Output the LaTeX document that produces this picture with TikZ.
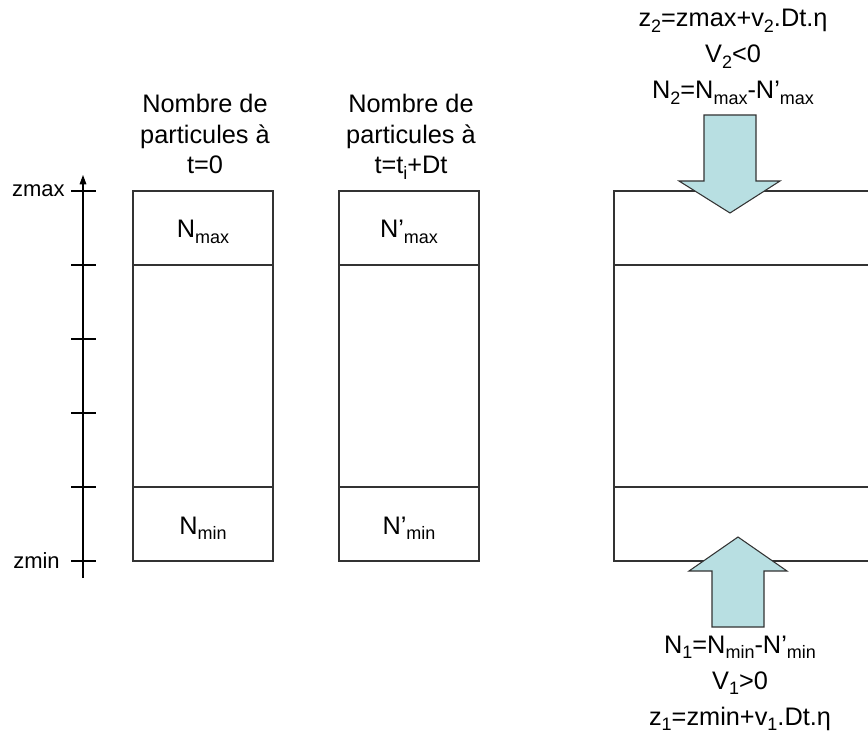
\documentclass[tikz,border=0pt]{standalone}
\usepackage{fontspec}
\setmainfont{Liberation Sans}
\usetikzlibrary{arrows.meta}
\newcommand{\sbs}[1]{\raisebox{-0.22em}{\fontsize{13.5}{13.5}\selectfont #1}}
\definecolor{arrowfill}{HTML}{B8DFE2}
\definecolor{linec}{HTML}{333333}
\tikzset{
  lbl/.style={font=\fontsize{19}{23}\selectfont, inner sep=0pt, anchor=base},
  axlbl/.style={font=\fontsize{16.5}{20}\selectfont, inner sep=0pt, anchor=base east},
  cell/.style={draw=linec, line width=0.8pt},
  blockarrow/.style={draw=linec, line width=0.8pt, fill=arrowfill},
  axisline/.style={draw=black, line width=0.8pt}
}
\begin{document}
\begin{tikzpicture}[x=0.75pt,y=-0.75pt]
\useasboundingbox (0,0) rectangle (868,738);
% axis
\coordinate (axbot) at (83,578);
\coordinate (axtop) at (83,175);
\draw[axisline,-{Triangle[length=7pt,width=5pt]}] (axbot) -- (axtop);
\foreach \y/\n in {191/t0,265/t1,339/t2,413/t3,487/t4,561/t5}{
  \coordinate (\n l) at (71,\y);
  \coordinate (\n r) at (96,\y);
  \draw[axisline] (\n l) -- (\n r);
}
\node[axlbl] (zmax) at (65,197) {zmax};
\node[axlbl] (zmin) at (60,568) {zmin};
% box 1
\draw[cell] (133,191) rectangle (273,561);
\draw[cell] (133,265) -- (273,265);
\draw[cell] (133,487) -- (273,487);
\node[lbl] (h1a) at (205,113) {Nombre de};
\node[lbl] (h1b) at (205,144) {particules à};
\node[lbl] (h1c) at (205,174) {t=0};
\node[lbl] (nmax) at (203,238) {N\sbs{max}};
\node[lbl] (nmin) at (203,534) {N\sbs{min}};
% box 2
\draw[cell] (339,191) rectangle (479,561);
\draw[cell] (339,265) -- (479,265);
\draw[cell] (339,487) -- (479,487);
\node[lbl] (h2a) at (411,113) {Nombre de};
\node[lbl] (h2b) at (411,144) {particules à};
\node[lbl] (h2c) at (411,174) {t=t\sbs{i}+Dt};
\node[lbl] (npmax) at (409,238) {N’\sbs{max}};
\node[lbl] (npmin) at (409,534) {N’\sbs{min}};
% box 3 (open to the right)
\draw[cell] (870,191) -- (614,191) -- (614,561) -- (870,561);
\draw[cell] (614,265) -- (870,265);
\draw[cell] (614,487) -- (870,487);
% top block arrow
\draw[blockarrow] (704,115) -- (756,115) -- (756,181) -- (780,181) -- (730,213) -- (679,181) -- (704,181) -- cycle;
% bottom block arrow
\draw[blockarrow] (712,627) -- (764,627) -- (764,571) -- (787,571) -- (738,537) -- (689,571) -- (712,571) -- cycle;
% top labels
\node[lbl] (topa) at (733,27) {z\sbs{2}=zmax+v\sbs{2}.Dt.η};
\node[lbl] (topb) at (733,63) {V\sbs{2}<0};
\node[lbl] (topc) at (733,99) {N\sbs{2}=N\sbs{max}-N’\sbs{max}};
% bottom labels
\node[lbl] (bota) at (740,653) {N\sbs{1}=N\sbs{min}-N’\sbs{min}};
\node[lbl] (botb) at (740,689) {V\sbs{1}>0};
\node[lbl] (botc) at (740,725) {z\sbs{1}=zmin+v\sbs{1}.Dt.η};
\end{tikzpicture}
\end{document}
